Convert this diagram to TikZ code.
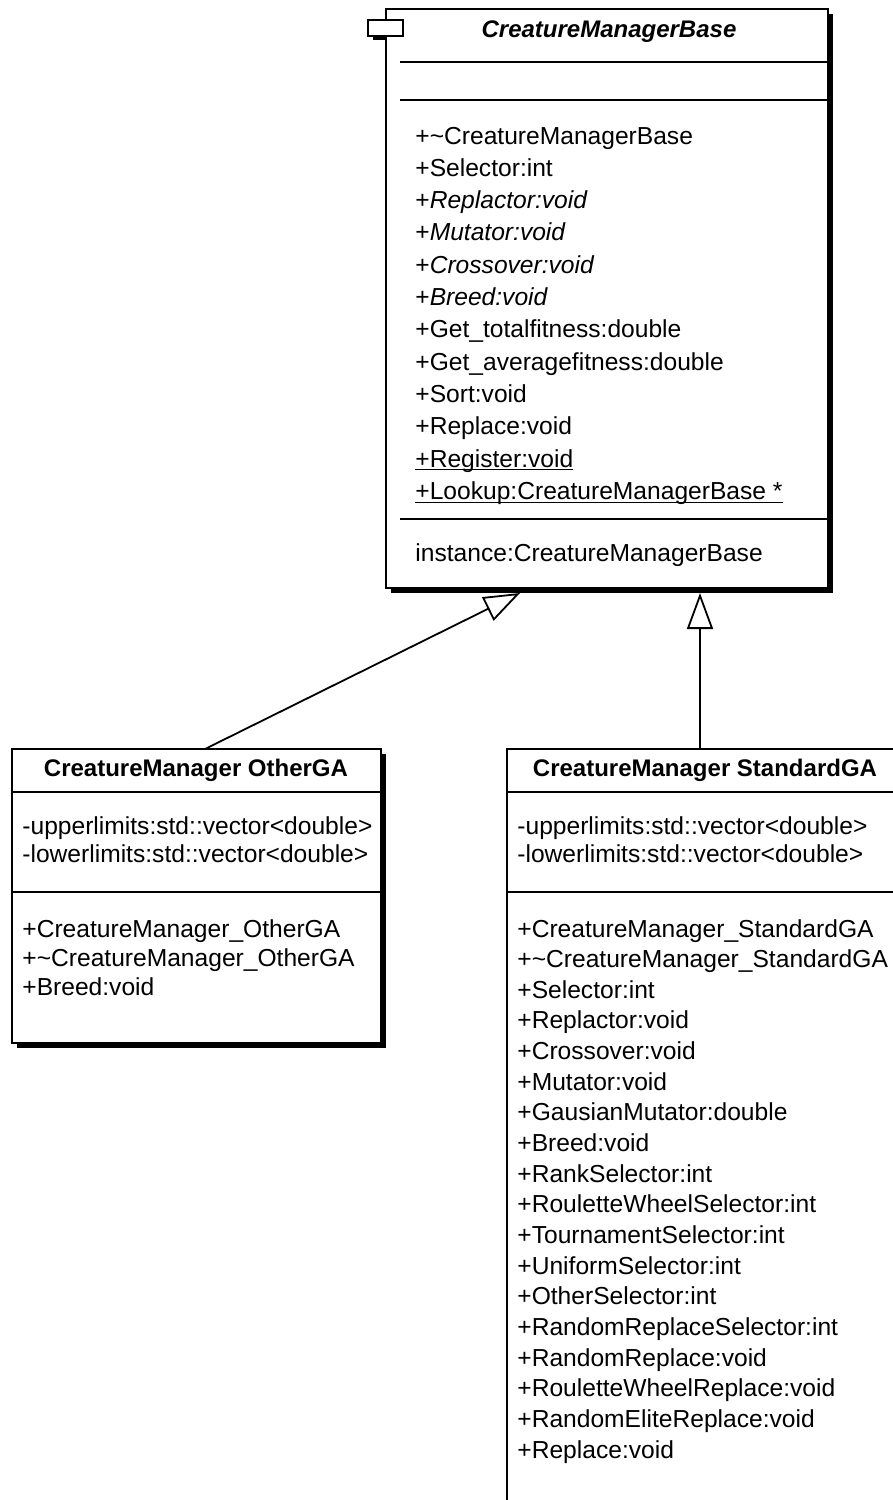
\documentclass[tikz,border=0pt]{standalone}
\usepackage{fontspec}
\setmainfont{Liberation Sans}
\usetikzlibrary{arrows.meta,shadows}
\tikzset{
  classbox/.style={draw, fill=white, line width=0.9pt, inner sep=0pt, outer sep=0pt,
    anchor=north west, drop shadow={shadow xshift=2.5pt, shadow yshift=-2.5pt, fill=black, opacity=1}},
  classname/.style={anchor=base, inner sep=0pt, font=\fontsize{12}{14}\selectfont\bfseries},
  member/.style={anchor=base west, inner sep=0pt, font=\fontsize{12.3}{14}\selectfont},
  sep/.style={line width=0.9pt},
  inherits/.style={line width=0.9pt, -{Triangle[open, length=18pt, width=13pt, line width=0.9pt]}},
}
\begin{document}
\begin{tikzpicture}[x=0.5pt, y=-0.5pt]
  \useasboundingbox (0,0) rectangle (893,1500);
  \clip (0,0) rectangle (893,1500);

  % abstract base class
  \node[classbox, minimum width=221pt, minimum height=289.5pt] (base) at (386,9) {};
  \fill (373,36) rectangle (386,40);
  \draw[fill=white, line width=0.9pt] (368,20) rectangle (403,36);
  \node[classname, font=\fontsize{12}{14}\selectfont\bfseries\itshape] (basename) at (609,37) {CreatureManagerBase};
  \draw[sep] (400,62) -- (828,62);
  \draw[sep] (400,100) -- (828,100);
  \foreach \txt [count=\i from 0] in {
      {+\textasciitilde CreatureManagerBase},
      {+Selector:int},
      {+\textit{Replactor:void}},
      {+\textit{Mutator:void}},
      {+\textit{Crossover:void}},
      {+\textit{Breed:void}},
      {+Get\_totalfitness:double},
      {+Get\_averagefitness:double},
      {+Sort:void},
      {+Replace:void},
      {\underline{\smash{+Register:void}}},
      {\underline{\smash{+Lookup:CreatureManagerBase *}}}}
    \node[member] (baseop\i) at (415,144+32.3*\i) {\txt};
  \draw[sep] (400,519) -- (828,519);
  \node[member] (baseattr) at (415,561) {instance:CreatureManagerBase};

  % CreatureManager OtherGA
  \node[classbox, minimum width=184.5pt, minimum height=147pt] (other) at (12,749) {};
  \node[classname] (othername) at (196,776) {CreatureManager OtherGA};
  \draw[sep] (12,792) -- (381,792);
  \node[member] (otherattr1) at (22,834) {-upperlimits:std::vector<double>};
  \node[member] (otherattr2) at (22,862) {-lowerlimits:std::vector<double>};
  \draw[sep] (12,892) -- (381,892);
  \foreach \txt [count=\i from 0] in {
      {+CreatureManager\_OtherGA},
      {+\textasciitilde CreatureManager\_OtherGA},
      {+Breed:void}}
    \node[member] (otherop\i) at (22,937+29*\i) {\txt};

  % CreatureManager StandardGA
  \node[classbox, minimum width=198pt, minimum height=385.5pt] (std) at (507,749) {};
  \node[classname] (stdname) at (705,776) {CreatureManager StandardGA};
  \draw[sep] (507,792) -- (903,792);
  \node[member] (stdattr1) at (517,834) {-upperlimits:std::vector<double>};
  \node[member] (stdattr2) at (517,862) {-lowerlimits:std::vector<double>};
  \draw[sep] (507,892) -- (903,892);
  \foreach \txt [count=\i from 0] in {
      {+CreatureManager\_StandardGA},
      {+\textasciitilde CreatureManager\_StandardGA},
      {+Selector:int},
      {+Replactor:void},
      {+Crossover:void},
      {+Mutator:void},
      {+GausianMutator:double},
      {+Breed:void},
      {+RankSelector:int},
      {+RouletteWheelSelector:int},
      {+TournamentSelector:int},
      {+UniformSelector:int},
      {+OtherSelector:int},
      {+RandomReplaceSelector:int},
      {+RandomReplace:void},
      {+RouletteWheelReplace:void},
      {+RandomEliteReplace:void},
      {+Replace:void}}
    \node[member] (stdop\i) at (517,937+30.65*\i) {\txt};

  % generalisations
  \draw[inherits] ([xshift=4.25pt]other.north) -- ([xshift=-43.5pt, yshift=-2.5pt]base.south);
  \draw[inherits] ([xshift=-2.5pt]std.north) -- ([xshift=-2.5pt, yshift=-2.5pt]base.south -| std.north);
\end{tikzpicture}
\end{document}
